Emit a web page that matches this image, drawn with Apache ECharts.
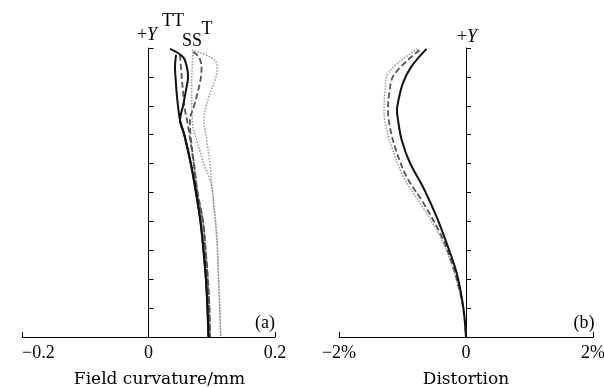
<!DOCTYPE html>
<html>
<head>
<meta charset="utf-8">
<script src="https://cdn.jsdelivr.net/npm/echarts@6/dist/echarts.min.js"></script>
<style>html,body{margin:0;padding:0;background:#fff}#c{width:604px;height:387px}</style>
</head>
<body>
<div id="c"></div>
<script>
// ---- Data: field curvature (mm) vs normalized field height ----
const fieldSolidT = [[0.034,0.997],[0.0545,0.969],[0.061,0.931],[0.0625,0.9],[0.059,0.851],[0.0545,0.799],[0.0498,0.751],[0.0569,0.699],[0.0672,0.599],[0.0751,0.502],[0.0822,0.401],[0.087,0.301],[0.0909,0.201],[0.0933,0.1],[0.0949,0]];
const fieldSolidS = [[0.0435,0.976],[0.0419,0.93],[0.0427,0.9],[0.0443,0.85],[0.0466,0.8],[0.0498,0.751],[0.0565,0.699],[0.0668,0.599],[0.0748,0.502],[0.082,0.401],[0.0868,0.301],[0.0907,0.201],[0.0931,0.1],[0.0947,0]];
const fieldDashT = [[0.0704,0.986],[0.0798,0.969],[0.0838,0.931],[0.083,0.9],[0.0783,0.851],[0.072,0.799],[0.0656,0.751],[0.0664,0.699],[0.072,0.599],[0.0775,0.502],[0.0862,0.401],[0.0904,0.301],[0.094,0.201],[0.0964,0.1],[0.0972,0]];
const fieldDashS = [[0.0498,0.976],[0.0525,0.9],[0.0545,0.851],[0.0577,0.785],[0.0609,0.751],[0.0648,0.699],[0.0716,0.599],[0.0771,0.502],[0.0858,0.401],[0.09,0.301],[0.0936,0.201],[0.096,0.1],[0.0968,0]];
const fieldDotT = [[0.0683,0.993],[0.0972,0.969],[0.1083,0.941],[0.1067,0.9],[0.0952,0.83],[0.0877,0.751],[0.092,0.682],[0.0972,0.599],[0.1012,0.502],[0.1059,0.401],[0.1091,0.301],[0.1107,0.201],[0.1127,0.1],[0.1141,0]];
const fieldDotS = [[0.0704,0.986],[0.0683,0.879],[0.0683,0.82],[0.0704,0.727],[0.0762,0.682],[0.0877,0.599],[0.099,0.53],[0.1035,0.45],[0.1059,0.401],[0.1091,0.301],[0.1107,0.201],[0.1127,0.1],[0.1141,0]];
// ---- Data: distortion (%) vs normalized field height ----
const distSolid = [[-0.622,0.997],[-0.866,0.934],[-0.992,0.879],[-1.063,0.82],[-1.087,0.785],[-1.071,0.751],[-1.013,0.682],[-0.882,0.602],[-0.677,0.519],[-0.461,0.415],[-0.283,0.311],[-0.146,0.221],[-0.043,0.104],[0,0]];
const distDash = [[-0.732,0.993],[-1.134,0.907],[-1.213,0.837],[-1.228,0.785],[-1.205,0.734],[-1.118,0.657],[-0.934,0.554],[-0.672,0.464],[-0.409,0.36],[-0.236,0.266],[-0.102,0.163],[-0.03,0.076],[0,0]];
const distDot = [[-0.764,0.997],[-1.213,0.917],[-1.276,0.848],[-1.291,0.785],[-1.268,0.734],[-1.17,0.657],[-0.987,0.554],[-0.724,0.464],[-0.436,0.36],[-0.252,0.266],[-0.11,0.163],[-0.03,0.076],[0,0]];
// ---- Axis ticks ----
const fieldTicks = [-0.2, 0, 0.2];
const distTicks = [-2, 0, 2];
const fieldName = 'Field curvature/mm';
const distName = 'Distortion';

const serif = 'Liberation Serif';
const titleFont = 'DejaVu Serif';
const minus = v => v < 0 ? '\u2212' + Math.abs(v) : String(v);

function xAx(gi, ticks, fmt, name, alignMin, namePad) {
  return {
    gridIndex: gi, type: 'value', min: ticks[0], max: ticks[2], interval: ticks[2],
    axisLine: {lineStyle: {color: '#000', width: 1}},
    axisTick: {inside: true, length: 5, lineStyle: {color: '#000'}},
    axisLabel: {formatter: fmt, fontFamily: serif, fontSize: 18, color: '#000', margin: 7, alignMinLabel: alignMin},
    splitLine: {show: false},
    name: name, nameLocation: 'middle', nameGap: 34,
    nameTextStyle: {fontFamily: titleFont, fontSize: 17, color: '#000', padding: namePad}
  };
}
function yAx(gi) {
  return {
    gridIndex: gi, type: 'value', min: 0, max: 1, interval: 0.1,
    axisLine: {onZero: true, lineStyle: {color: '#000', width: 1}},
    axisTick: {inside: true, length: 5, lineStyle: {color: '#000', width: 1}},
    axisLabel: {show: false}, splitLine: {show: false}
  };
}
function ln(gi, data, style) {
  return {type: 'line', xAxisIndex: gi, yAxisIndex: gi, data: data, showSymbol: false, symbol: 'none',
    smooth: 0.35, lineStyle: style, silent: true, animation: false};
}
const solid = {color: '#111', width: 2, type: 'solid'};
const dash = {color: '#555', width: 1.8, type: [6, 3]};
const dot = {color: '#999', width: 1.5, type: [1.5, 1.5]};

const rt = {n: {fontFamily: serif, fontSize: 18, fill: '#000'}, i: {fontFamily: serif, fontSize: 18, fontStyle: 'italic', fill: '#000'}};
const chart = echarts.init(document.getElementById('c'), null, {renderer: 'canvas'});
chart.setOption({
  animation: false,
  backgroundColor: '#fff',
  grid: [
    {left: 22, top: 48, width: 253, height: 289, outerBoundsMode: 'none', containLabel: false},
    {left: 339, top: 48, width: 254, height: 289, outerBoundsMode: 'none', containLabel: false}
  ],
  xAxis: [
    xAx(0, fieldTicks, v => minus(v), fieldName, 'left', [0, 0, 0, 22]),
    xAx(1, distTicks, v => v === 0 ? '0' : minus(v) + '%', distName, 'center', 0)
  ],
  yAxis: [yAx(0), yAx(1)],
  series: [
    ln(0, fieldDotT, dot), ln(0, fieldDotS, dot),
    ln(0, fieldDashT, dash), ln(0, fieldDashS, dash),
    ln(0, fieldSolidT, solid), ln(0, fieldSolidS, solid),
    ln(1, distDot, dot), ln(1, distDash, dash), ln(1, distSolid, solid)
  ],
  graphic: [
    {type: 'text', x: 147, y: 35, style: {text: '{n|+}{i|Y}', align: 'center', verticalAlign: 'middle', rich: rt}},
    {type: 'text', x: 467, y: 37, style: {text: '{n|+}{i|Y}', align: 'center', verticalAlign: 'middle', rich: rt}},
    {type: 'text', x: 173, y: 21, style: {text: 'TT', font: '18px "Liberation Serif"', fill: '#000', align: 'center', verticalAlign: 'middle'}},
    {type: 'text', x: 192, y: 41, style: {text: 'SS', font: '18px "Liberation Serif"', fill: '#000', align: 'center', verticalAlign: 'middle'}},
    {type: 'text', x: 207, y: 29, style: {text: 'T', font: '18px "Liberation Serif"', fill: '#000', align: 'center', verticalAlign: 'middle'}},
    {type: 'text', x: 265, y: 323, style: {text: '(a)', font: '18px "Liberation Serif"', fill: '#000', align: 'center', verticalAlign: 'middle'}},
    {type: 'text', x: 584, y: 323, style: {text: '(b)', font: '18px "Liberation Serif"', fill: '#000', align: 'center', verticalAlign: 'middle'}}
  ]
});
</script>
</body>
</html>
